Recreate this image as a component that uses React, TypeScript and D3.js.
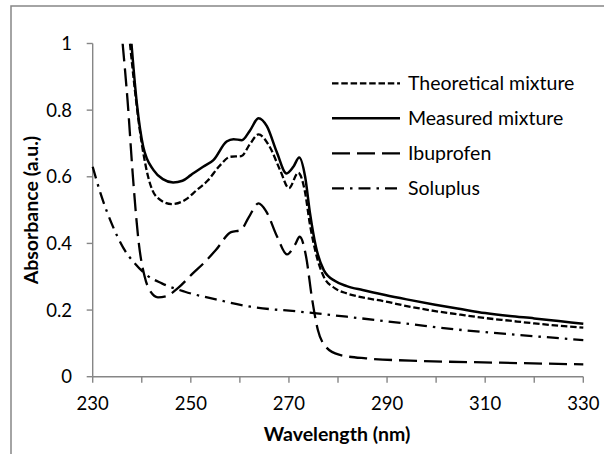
import React from "react";
import * as d3 from "d3";

type Pt = [number, number];

const measuredMixture: Pt[] = [
  [237.9, 1.0], [239.0, 0.82], [240.3, 0.69], [242.4, 0.62], [244.3, 0.593], [246.4, 0.583],
  [248.3, 0.588], [250.0, 0.605], [252.5, 0.63], [254.6, 0.65], [257.3, 0.706], [258.7, 0.713],
  [260.4, 0.71], [262.1, 0.74], [263.8, 0.776], [265.5, 0.752], [267.5, 0.675], [269.5, 0.61],
  [270.9, 0.63], [272.1, 0.658], [273.3, 0.6], [274.3, 0.49], [275.5, 0.39], [277.1, 0.32],
  [279.4, 0.287], [281.8, 0.272], [285.0, 0.26], [289.6, 0.245], [294.0, 0.232], [299.8, 0.216],
  [305.0, 0.203], [310.0, 0.191], [315.0, 0.182], [320.0, 0.175], [325.0, 0.167], [330.0, 0.159],
];

const theoreticalMixture: Pt[] = [
  [237.6, 1.0], [238.6, 0.86], [239.6, 0.74], [241.3, 0.6], [243.0, 0.54], [246.1, 0.518],
  [248.8, 0.53], [251.2, 0.56], [253.4, 0.588], [256.0, 0.635], [258.0, 0.66], [260.3, 0.662],
  [262.0, 0.697], [263.8, 0.727], [266.0, 0.692], [268.2, 0.62], [270.0, 0.566], [271.9, 0.612],
  [273.2, 0.56], [274.3, 0.455], [275.5, 0.37], [277.1, 0.3], [279.4, 0.265], [281.8, 0.25],
  [285.0, 0.238], [289.6, 0.226], [294.0, 0.212], [299.8, 0.197], [305.0, 0.186], [310.0, 0.176],
  [315.0, 0.168], [320.0, 0.16], [325.0, 0.153], [330.0, 0.147],
];

const ibuprofen: Pt[] = [
  [236.1, 1.0], [237.1, 0.83], [238.2, 0.6], [239.4, 0.4], [240.6, 0.3], [241.8, 0.255],
  [243.3, 0.238], [244.9, 0.241], [247.3, 0.265], [250.4, 0.31], [252.7, 0.342], [255.1, 0.38],
  [258.2, 0.434], [260.2, 0.44], [261.8, 0.478], [263.8, 0.52], [265.3, 0.498], [267.6, 0.42],
  [269.6, 0.367], [271.2, 0.395], [272.2, 0.42], [273.5, 0.36], [274.7, 0.235], [275.9, 0.14],
  [277.5, 0.09], [280.2, 0.066], [285.7, 0.055], [297.5, 0.047], [313.1, 0.042], [330.0, 0.037],
];

const soluplus: Pt[] = [
  [230.0, 0.63], [231.6, 0.55], [234.0, 0.455], [236.3, 0.385], [238.6, 0.34], [241.0, 0.305],
  [244.1, 0.28], [248.8, 0.255], [255.1, 0.232], [262.2, 0.21], [272.4, 0.195], [281.8, 0.18],
  [293.5, 0.16], [305.3, 0.14], [317.1, 0.125], [330.0, 0.11],
];

const xTicks = [230, 240, 250, 260, 270, 280, 290, 300, 310, 320, 330];
const xLabels = [230, 250, 270, 290, 310, 330];
const yTicks = [0, 0.2, 0.4, 0.6, 0.8, 1];

const seriesNames = ["Theoretical mixture", "Measured mixture", "Ibuprofen", "Soluplus"];

export default function App() {
  const W = 604, H = 454;
  const x0 = 92.7, x1 = 583.3, yTop = 43.5, yBot = 376.7;
  const x = d3.scaleLinear().domain([230, 330]).range([x0, x1]);
  const y = d3.scaleLinear().domain([0, 1]).range([yBot, yTop]);
  const line = d3.line<Pt>().x(d => x(d[0])).y(d => y(d[1])).curve(d3.curveMonotoneX);

  const font = "Lato, 'Open Sans', sans-serif";
  const grey = "#868686";

  const styles = [
    { data: theoreticalMixture, dash: "6.5,2.8", w: 2.3 },
    { data: measuredMixture, dash: "none", w: 2.5 },
    { data: ibuprofen, dash: "18,7", w: 2.3 },
    { data: soluplus, dash: "12,6,2.5,6", w: 2.3 },
  ];

  const fmt = (v: number) => (v === 0 ? "0" : v === 1 ? "1" : String(v));

  return (
    <svg width={W} height={H} style={{ position: "absolute", left: 0, top: 0, background: "#fff" }}>
      <rect x={11} y={6} width={700} height={600} fill="#fff" stroke={grey} strokeWidth={1.5} />
      <defs>
        <clipPath id="plotclip">
          <rect x={x0 - 2} y={yTop} width={x1 - x0 + 4} height={yBot - yTop + 2} />
        </clipPath>
      </defs>
      {/* axes */}
      <line x1={x0} y1={yTop} x2={x0} y2={yBot} stroke={grey} strokeWidth={1.4} />
      <line x1={x0} y1={yBot} x2={x1} y2={yBot} stroke={grey} strokeWidth={1.4} />
      {yTicks.map(t => (
        <g key={"y" + t}>
          <line x1={x0 - 6} x2={x0} y1={y(t)} y2={y(t)} stroke={grey} strokeWidth={1.4} />
          <text x={72} y={y(t)} dy="0.35em" textAnchor="end" fontFamily={font} fontSize={18.5} fill="#000">
            {fmt(t)}
          </text>
        </g>
      ))}
      {xTicks.map(t => (
        <line key={"x" + t} x1={x(t)} x2={x(t)} y1={yBot} y2={yBot + 6} stroke={grey} strokeWidth={1.4} />
      ))}
      {xLabels.map(t => (
        <text key={"xl" + t} x={x(t)} y={410} textAnchor="middle" fontFamily={font} fontSize={18.5} fill="#000">
          {t}
        </text>
      ))}
      <text x={337} y={441} textAnchor="middle" fontFamily={font} fontSize={19.5} fontWeight="bold" fill="#000">
        Wavelength (nm)
      </text>
      <text
        transform={`translate(38,${(yTop + yBot) / 2}) rotate(-90)`}
        textAnchor="middle"
        fontFamily={font}
        fontSize={19.5}
        fontWeight="bold"
        fill="#000"
      >
        Absorbance (a.u.)
      </text>
      {/* series */}
      <g clipPath="url(#plotclip)">
        {styles.map((s, i) => (
          <path
            key={i}
            d={line(s.data) || ""}
            fill="none"
            stroke="#000"
            strokeWidth={s.w}
            strokeDasharray={s.dash}
          />
        ))}
      </g>
      {/* legend */}
      {seriesNames.map((n, i) => {
        const ly = 83.3 + i * 35;
        return (
          <g key={n}>
            <line x1={332} x2={400} y1={ly} y2={ly} stroke="#000" strokeWidth={styles[i].w} strokeDasharray={styles[i].dash} />
            <text x={408} y={ly} dy="0.35em" fontFamily={font} fontSize={19.5} fill="#000">
              {n}
            </text>
          </g>
        );
      })}
    </svg>
  );
}
